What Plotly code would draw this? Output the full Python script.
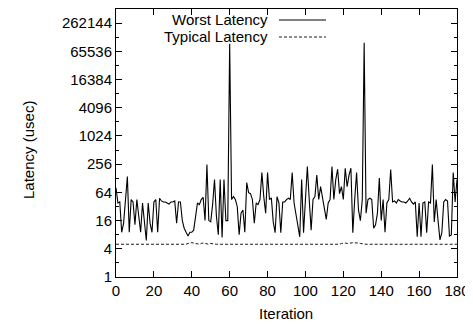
import plotly.graph_objects as go

iterations = list(range(181))

worst_latency = [
    80, 38, 40, 9, 14, 45, 140, 9, 45, 40,
    13, 45, 22, 9, 38, 12, 6, 38, 14, 9,
    40, 45, 9, 48, 42, 40, 40, 38, 36, 40,
    40, 42, 14, 40, 40, 16, 11, 9, 7.5, 9,
    9, 10, 20, 38, 35, 45, 50, 16, 250, 16,
    15, 35, 120, 20, 8, 120, 7, 120, 16, 16,
    95000, 45, 52, 45, 32, 8, 23, 27, 9, 103,
    63, 60, 45, 14, 38, 35, 45, 169, 52, 23,
    169, 45, 49, 15, 8.8, 52, 38, 8.8, 40, 40,
    45, 48, 45, 169, 38, 23, 12, 7.2, 120, 8.8,
    45, 228, 45, 10, 45, 52, 150, 45, 85, 52,
    30, 17, 38, 45, 228, 45, 120, 200, 60, 85,
    45, 210, 85, 150, 210, 8.8, 45, 169, 27, 16,
    45, 100000, 23, 45, 48, 45, 11, 13, 23, 130,
    16, 45, 9, 38, 45, 196, 40, 42, 38, 45,
    42, 40, 40, 38, 42, 48, 40, 36, 40, 7.2,
    38, 7.2, 38, 40, 8.8, 40, 38, 250, 15, 45,
    16, 6.2, 8.8, 40, 45, 42, 7.5, 7.9, 169, 40,
    120,
]

typical_latency = (
    [5.0] * 38
    + [5.2, 5.3, 5.4, 5.3, 5.2, 5.1, 5.0, 5.2, 5.3, 5.2, 5.1, 5.0, 5.2, 5.1]
    + [5.0] * 67
    + [5.2, 5.3, 5.3, 5.2, 5.2, 5.3, 5.4, 5.4, 5.3, 5.3, 5.2, 5.1]
    + [5.0] * 50
)

y_tick_vals = [1, 4, 16, 64, 256, 1024, 4096, 16384, 65536, 262144]
y_tick_text = [str(v) for v in y_tick_vals]
y_minor_vals = [2, 8, 32, 128, 512, 2048, 8192, 32768, 131072, 524288]
x_tick_vals = [0, 20, 40, 60, 80, 100, 120, 140, 160, 180]

FONT = "Liberation Sans, Arial, Helvetica, sans-serif"

# page offset from default HTML body margin
OFF = 8
W, H = 473 - OFF, 327 - OFF
# plot area in page pixels
PL, PR, PT, PB = 116, 457, 9, 277
L = PL - OFF
T = PT - OFF
R = W - (PR - OFF)
B = H - (PB - OFF)
pw, ph = W - L - R, H - T - B


def px_x(p):
    return (p - OFF - L) / pw


def px_y(p):
    return (H - B - (p - OFF)) / ph


fig = go.Figure()
fig.add_trace(go.Scatter(
    x=iterations, y=worst_latency, mode="lines", name="Worst Latency",
    line=dict(color="black", width=1.1), showlegend=False,
))
fig.add_trace(go.Scatter(
    x=iterations[:len(typical_latency)], y=typical_latency, mode="lines",
    name="Typical Latency",
    line=dict(color="black", width=0.9, dash="3px,2px"), showlegend=False,
))

# manual gnuplot-style legend (text right-aligned, sample to the right)
legend_rows = [("Worst Latency", 20, "solid"), ("Typical Latency", 37, "dash")]
for text, yy, dash in legend_rows:
    fig.add_annotation(
        text=text, xref="paper", yref="paper", x=px_x(270), y=px_y(yy),
        xanchor="right", yanchor="middle", showarrow=False,
        font=dict(family=FONT, size=15, color="black"),
    )
    fig.add_shape(
        type="line", xref="paper", yref="paper",
        x0=px_x(279), x1=px_x(326), y0=px_y(yy), y1=px_y(yy),
        line=dict(color="black", width=1.1 if dash == "solid" else 0.9,
                  dash="solid" if dash == "solid" else "3px,2px"),
    )

fig.add_annotation(
    text="Latency (usec)", xref="paper", yref="paper", x=px_x(28), y=px_y(150),
    xanchor="center", yanchor="middle", textangle=-90, showarrow=False,
    font=dict(family=FONT, size=15, color="black"),
)
fig.add_annotation(
    text="Iteration", xref="paper", yref="paper", x=px_x(286), y=px_y(313),
    xanchor="center", yanchor="middle", showarrow=False,
    font=dict(family=FONT, size=15, color="black"),
)

fig.update_layout(
    width=W, height=H,
    margin=dict(l=L, r=R, t=T, b=B, pad=0),
    paper_bgcolor="white", plot_bgcolor="white",
    font=dict(family=FONT, size=15, color="black"),
    xaxis=dict(
        range=[0, 180], tickvals=x_tick_vals, ticks="inside", ticklen=6,
        tickcolor="black", tickwidth=1, showline=True, linecolor="black",
        linewidth=1, mirror="allticks", showgrid=False, zeroline=False,
        tickfont=dict(family=FONT, size=15, color="black"),
    ),
    yaxis=dict(
        type="log", range=[0, 5.7196], tickvals=y_tick_vals, ticktext=y_tick_text,
        ticks="inside", ticklen=6, tickcolor="black", tickwidth=1,
        showline=True, linecolor="black", linewidth=1, mirror="allticks",
        showgrid=False, zeroline=False,
        tickfont=dict(family=FONT, size=15, color="black"),
        minor=dict(tickvals=y_minor_vals, ticks="inside", ticklen=3,
                   tickcolor="black", showgrid=False),
    ),
)

fig.write_html("out.html")
